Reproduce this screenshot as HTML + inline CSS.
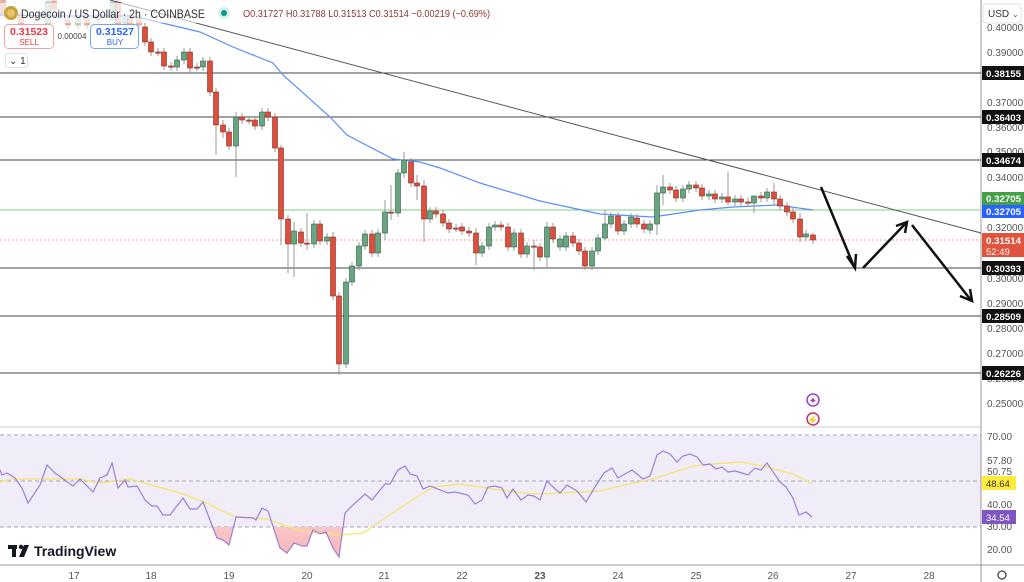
<!DOCTYPE html>
<html><head><meta charset="utf-8"><style>
html,body{margin:0;padding:0;background:#fff;width:1024px;height:582px;overflow:hidden;font-family:"Liberation Sans",sans-serif}
svg text{font-family:"Liberation Sans",sans-serif}
</style></head><body>
<svg id="s" width="1024" height="582" viewBox="0 0 1024 582" xmlns="http://www.w3.org/2000/svg">
<rect width="1024" height="582" fill="#fff"/>
<rect x="0" y="435" width="981" height="92" fill="#f0ecf8"/>
<g stroke="#a8a8b0" stroke-dasharray="4,3" stroke-width="1">
<line x1="0" y1="435" x2="981" y2="435"/><line x1="0" y1="481" x2="981" y2="481"/><line x1="0" y1="527" x2="981" y2="527"/>
</g>
<line x1="0" y1="427" x2="981" y2="427" stroke="#e6e6e6" stroke-width="2"/>
<line x1="0" y1="565" x2="1024" y2="565" stroke="#999"/>
<line x1="981" y1="0" x2="981" y2="582" stroke="#999"/>
<g stroke="#444" stroke-width="1">
<line x1="0" y1="73" x2="981" y2="73"/><line x1="0" y1="117" x2="981" y2="117"/><line x1="0" y1="160" x2="981" y2="160"/>
<line x1="0" y1="268" x2="981" y2="268"/><line x1="0" y1="316" x2="981" y2="316"/><line x1="0" y1="373" x2="981" y2="373"/>
</g>
<line x1="0" y1="210" x2="981" y2="210" stroke="#7ccf84"/>
<line x1="0" y1="240" x2="981" y2="240" stroke="#f0a090" stroke-dasharray="2,2"/>
<line x1="110" y1="0" x2="981" y2="233" stroke="#555" stroke-width="1"/>
<polyline fill="none" stroke="#5b8ff9" stroke-width="1.2" points="0,15 67,16 133,16 200,32 233,47 273,63 283,75 330,117 347,135 393,159 420,162 440,168 480,183 540,201 600,214 653,217 700,210 733,207 777,205 813,210"/>
<g id="c"></g>
<g stroke="#111" stroke-width="2.5" fill="none">
<line x1="821" y1="187" x2="853" y2="264"/><polyline points="847,256 855,268 856,254"/>
<line x1="863" y1="268" x2="905" y2="224"/><polyline points="896,226 907,222 905,233"/>
<line x1="912" y1="225" x2="970" y2="299"/><polyline points="960,296 972,301 970,289"/>
</g>
<circle cx="813" cy="400" r="6" fill="none" stroke="#9b3fd6" stroke-width="1.5"/><text x="813" y="404" font-size="10" fill="#9b3fd6" text-anchor="middle">✦</text>
<circle cx="813" cy="419" r="6" fill="none" stroke="#c0306f" stroke-width="1.5"/><text x="813" y="423" font-size="9" fill="#c0306f" text-anchor="middle">⚡</text>
<defs><clipPath id="low"><rect x="0" y="527" width="981" height="40"/></clipPath>
<linearGradient id="pg" x1="0" y1="0" x2="0" y2="1"><stop offset="0" stop-color="#fff0f0"/><stop offset="1" stop-color="#f7b5b8"/></linearGradient></defs>
<g id="r"></g>
<rect x="0" y="3" width="520" height="20" fill="#fff" opacity="0.6"/>
<circle cx="11" cy="13" r="7" fill="#c9a23c"/><circle cx="11" cy="13" r="4" fill="#e4c46a"/>
<text x="21" y="18" font-size="12" fill="#333" textLength="184" lengthAdjust="spacingAndGlyphs">Dogecoin / US Dollar · 2h · COINBASE</text>
<circle cx="224" cy="13" r="6" fill="#d8f0ea"/><circle cx="224" cy="13" r="3" fill="#089981"/>
<text x="243" y="17" font-size="10" fill="#8a3a34" textLength="247" lengthAdjust="spacingAndGlyphs">O0.31727 H0.31788 L0.31513 C0.31514 −0.00219 (−0.69%)</text>
<rect x="4.5" y="24.5" width="49" height="24" rx="4" fill="#fff" stroke="#f5a0a6"/>
<text x="29" y="35" font-size="10.5" fill="#f23645" text-anchor="middle" font-weight="bold">0.31523</text>
<text x="29" y="45" font-size="8" fill="#f23645" text-anchor="middle">SELL</text>
<text x="72" y="39" font-size="8" fill="#444" text-anchor="middle">0.00004</text>
<rect x="90.5" y="24.5" width="48" height="24" rx="4" fill="#fff" stroke="#7aa6f8"/>
<text x="115" y="35" font-size="10.5" fill="#2962ff" text-anchor="middle" font-weight="bold">0.31527</text>
<text x="115" y="45" font-size="8" fill="#2962ff" text-anchor="middle">BUY</text>
<rect x="5.5" y="53.5" width="22" height="14" rx="2" fill="#fff" stroke="#e0e0e0"/>
<text x="9" y="64" font-size="10" fill="#333">⌄ 1</text>
<g font-size="10" fill="#555">
<text x="987" y="31">0.40000</text><text x="987" y="56">0.39000</text><text x="987" y="106">0.37000</text><text x="987" y="131">0.36000</text>
<text x="987" y="155">0.35000</text><text x="987" y="181">0.34000</text><text x="987" y="231">0.32000</text><text x="987" y="282">0.30000</text>
<text x="987" y="307">0.29000</text><text x="987" y="332">0.28000</text><text x="987" y="357">0.27000</text><text x="987" y="382">0.26000</text><text x="987" y="407">0.25000</text>
<text x="987" y="440">70.00</text><text x="987" y="464">57.80</text><text x="987" y="475">50.75</text><text x="987" y="508">40.00</text><text x="987" y="530">30.00</text><text x="987" y="553">20.00</text>
</g>
<rect x="983" y="4" width="38" height="19" rx="3" fill="#fff" stroke="#e0e0e0"/>
<text x="988" y="17" font-size="10" fill="#333">USD</text><text x="1012" y="17" font-size="8" fill="#555">⌄</text>
<g font-size="9.5" font-weight="bold" fill="#fff">
<rect x="982" y="66" width="42" height="14" fill="#111"/><text x="986" y="77" textLength="35" lengthAdjust="spacingAndGlyphs">0.38155</text>
<rect x="982" y="110" width="42" height="14" fill="#111"/><text x="986" y="121" textLength="35" lengthAdjust="spacingAndGlyphs">0.36403</text>
<rect x="982" y="153" width="42" height="14" fill="#111"/><text x="986" y="164" textLength="35" lengthAdjust="spacingAndGlyphs">0.34674</text>
<rect x="982" y="192" width="42" height="13" fill="#43a047"/><text x="986" y="202" textLength="35" lengthAdjust="spacingAndGlyphs">0.32705</text>
<rect x="982" y="205" width="42" height="13" fill="#2962ff"/><text x="986" y="215" textLength="35" lengthAdjust="spacingAndGlyphs">0.32705</text>
<rect x="982" y="233" width="42" height="24" fill="#e0533d"/><text x="986" y="244" textLength="35" lengthAdjust="spacingAndGlyphs">0.31514</text><text x="986" y="255" font-weight="normal">52:49</text>
<rect x="982" y="261" width="42" height="14" fill="#111"/><text x="986" y="272" textLength="35" lengthAdjust="spacingAndGlyphs">0.30393</text>
<rect x="982" y="309" width="42" height="14" fill="#111"/><text x="986" y="320" textLength="35" lengthAdjust="spacingAndGlyphs">0.28509</text>
<rect x="982" y="366" width="42" height="14" fill="#111"/><text x="986" y="377" textLength="35" lengthAdjust="spacingAndGlyphs">0.26226</text>
<rect x="982" y="476" width="34" height="14" fill="#ffeb3b"/><text x="986" y="487" fill="#333" font-weight="normal">48.64</text>
<rect x="982" y="510" width="34" height="14" fill="#7e57c2"/><text x="986" y="521" font-weight="normal">34.54</text>
</g>
<circle cx="1002" cy="575" r="4" fill="none" stroke="#444" stroke-width="1.3"/>
<g font-size="10" fill="#555" text-anchor="middle">
<text x="74" y="579">17</text><text x="151" y="579">18</text><text x="229" y="579">19</text><text x="307" y="579">20</text><text x="384" y="579">21</text>
<text x="462" y="579">22</text><text x="540" y="579" font-weight="bold">23</text><text x="618" y="579">24</text><text x="696" y="579">25</text><text x="773" y="579">26</text><text x="851" y="579">27</text><text x="929" y="579">28</text>
</g>
<g fill="#131722"><rect x="8" y="545" width="9" height="4"/><rect x="12" y="545" width="4" height="12"/><circle cx="21" cy="547" r="2.2"/><polygon points="24,545 29,545 24,557 19,557"/></g>
<text x="34" y="556" font-size="14" font-weight="bold" fill="#131722">TradingView</text>
</svg>
<script>
var NS="http://www.w3.org/2000/svg",c=document.getElementById('c');
function el(t,a,p){var e=document.createElementNS(NS,t);for(var k in a)e.setAttribute(k,a[k]);(p||c).appendChild(e);return e;}
var faint=[[3,0,14],[21,14,25],[48,25,2],[54,1,10],[68,20,25],[78,25,18],[87,18,25],[98,20,18],[113,20,2],[118,2,24],[125,23,18],[130,18,25],[139,18,25]];
var d=[[145,27,42],[151,42,52],[158,52,52],[164,52,66],[171,66,67],[177,67,60],[184,60,52],[190,52,68],[197,67,67],[203,67,61],[210,61,92],[216,92,125],[223,125,132],[229,132,146],[236,146,117],[242,117,120],[249,120,120],[255,120,126],[262,126,112],[268,112,117],[275,117,148],[281,148,219],[288,219,244],[294,244,231],[301,232,243],[307,243,244],[314,244,224],[320,224,241],[327,241,237],[333,237,296],[339,296,364],[346,364,282],[352,282,266],[359,266,246],[365,246,234],[372,234,253],[378,253,233],[385,233,212],[391,212,213],[398,213,173],[404,173,160],[411,162,183],[417,183,186],[424,186,219],[430,219,211],[436,211,214],[443,214,223],[449,223,229],[456,228,228],[462,227,231],[469,231,233],[476,233,253],[482,253,246],[489,246,227],[495,227,225],[501,225,227],[508,227,247],[514,247,233],[521,233,254],[527,254,246],[534,246,246],[540,247,257],[547,257,227],[553,227,239],[560,247,239],[566,247,236],[573,236,243],[579,243,251],[585,251,266],[592,266,251],[598,251,238],[605,238,224],[611,224,216],[618,216,231],[624,231,224],[631,224,217],[637,218,224],[644,224,229],[650,230,224],[657,224,193],[663,193,187],[670,187,190],[676,190,198],[683,198,189],[689,189,185],[696,185,188],[702,188,196],[709,196,194],[715,194,199],[722,199,197],[728,197,202],[735,202,199],[741,199,202],[748,202,203],[754,203,196],[761,196,198],[767,198,192],[774,192,199],[780,199,206],[787,206,212],[793,212,219],[800,219,237],[806,237,234],[813,235,240]];
var ext={216:[88,155],223:[120,138],236:[112,177],281:[145,245],288:[215,273],294:[222,277],307:[213,250],333:[232,300],339:[292,375],346:[278,368],385:[200,240],391:[185,220],404:[152,178],417:[175,200],424:[180,242],476:[228,265],534:[240,270],547:[222,268],605:[210,240],657:[185,235],663:[175,205],728:[172,205],754:[200,213],774:[183,205],800:[213,242],813:[233,244]};
function candle(x,o,cl,op){var up=cl<o,t=Math.min(o,cl),b=Math.max(o,cl);var e=ext[x]||[t-4,b+4];
var g=el('g',{opacity:op||1});el('line',{x1:x,x2:x,y1:e[0],y2:e[1],stroke:'#9a9a9a','stroke-width':1},g);
el('rect',{x:x-2.5,y:t,width:5,height:Math.max(b-t,1.2),fill:up?'#6aa582':'#dc4f3c',stroke:up?'#2e5c40':'#8b2c22','stroke-width':0.6},g);}
faint.forEach(function(a){candle(a[0],a[1],a[2],0.45)});d.forEach(function(a){candle(a[0],a[1],a[2])});
var r=document.getElementById('r');
var rp="0,470 2,475 7,473 15,478 22,488 28,503 40,485 47,465 55,473 73,486 80,479 93,492 100,478 107,475 112,463 118,488 125,480 128,487 137,486 145,500 152,506 157,506 163,515 170,515 183,498 190,509 197,509 203,502 217,538 223,540 229,545 236,517 253,518 256,520 262,508 268,511 280,548 287,553 294,543 302,546 307,546 313,530 320,534 326,532 333,548 339,557 345,513 353,505 365,494 372,500 385,484 390,484 398,470 405,466 410,474 417,476 423,489 430,486 448,493 455,492 468,495 475,504 482,500 488,487 495,486 502,488 507,498 513,489 521,500 528,495 534,496 540,500 547,481 553,487 560,493 567,485 577,491 586,502 595,487 604,473 612,468 618,478 632,470 643,479 650,476 657,455 663,451 670,454 677,462 683,456 690,454 697,457 703,465 710,464 716,469 722,467 728,472 735,471 742,473 748,475 755,468 761,470 767,463 780,482 786,487 793,498 799,515 806,512 812,517";
el('polygon',{points:"0,527 "+rp+" 812,527",fill:'url(#pg)','clip-path':'url(#low)'},r);
el('polyline',{points:"0,482 13,479 80,479 100,483 130,479 180,493 207,503 233,516 267,519 300,531 340,535 363,533 400,508 433,487 460,484 500,490 513,492 540,494 580,492 600,491 633,483 653,479 693,466 713,464 740,462 763,466 793,474 813,484",fill:'none',stroke:'#f5e56b','stroke-width':1.2},r);
el('polyline',{points:rp,fill:'none',stroke:'#9b7fd8','stroke-width':1.2},r);
</script>
</body></html>
